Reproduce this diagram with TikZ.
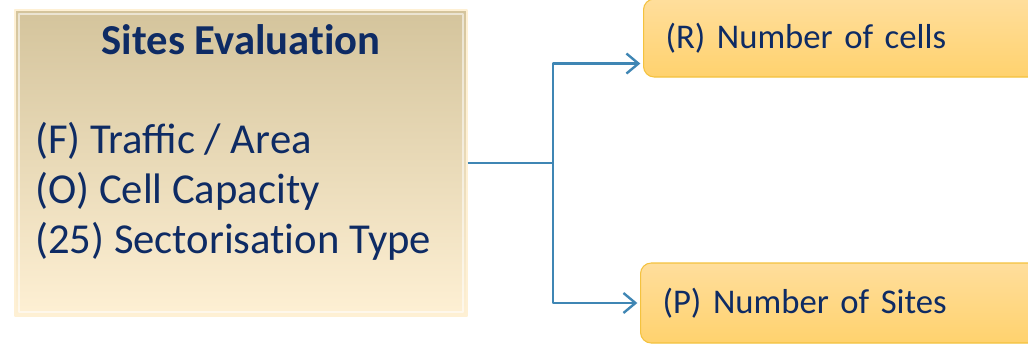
\documentclass[tikz,border=0pt]{standalone}
\usepackage{fontspec}
\setmainfont{Carlito}
\usetikzlibrary{arrows.meta,positioning}

\definecolor{blu}{HTML}{0E2B64}
\definecolor{freccia}{HTML}{3F86B4}
\definecolor{sabbia}{HTML}{D4C49C}
\definecolor{crema}{HTML}{FEF0D4}
\definecolor{oro}{HTML}{F4C23E}
\definecolor{gialloA}{HTML}{FFDE9C}
\definecolor{gialloB}{HTML}{FFD26E}

\begin{document}
\begin{tikzpicture}[x=0.75pt,y=-0.75pt,line join=round,
    valut/.style={rectangle,minimum width=339pt,minimum height=229.5pt,
                  top color=sabbia,bottom color=crema,draw=crema,line width=0.8pt},
    esito/.style={rectangle,rounded corners=8pt,draw=oro,line width=0.8pt,
                  top color=gialloA,bottom color=gialloB,anchor=west,
                  minimum width=300pt,text width=267pt,inner xsep=16.5pt,
                  align=left,text=blu,font=\fontsize{26}{31}\selectfont},
    linea/.style={freccia,line width=2.2pt},
    punta/.style={-{Straight Barb[length=9pt,width=15pt,line width=1.8pt]}}]

  \useasboundingbox (0,0) rectangle (1028,343);
  \clip (0,0) rectangle (1028,343);

  % ---- box di partenza ------------------------------------------------------
  \node[valut] (sites) at (241,163) {};
  \draw[white,opacity=0.55,line width=2.2pt] (19,14) rectangle (463,312);
  \node[text=blu,font=\bfseries\fontsize{32}{38}\selectfont] (titolo) at (241,40)
       {Sites Evaluat\kern0pt ion};
  \node[text=blu,font=\fontsize{32}{37.5}\selectfont,align=left,inner sep=0pt,
        anchor=west] (voci) at (35,191)
       {(F) Traffic / Area\\(O) Cell Capacity\\(25) Sectorisat\kern0pt ion Type};

  % ---- i due risultati -----------------------------------------------------
  \node[esito,minimum height=58.5pt] (celle) at (643,38) {(R) Number of cells};
  \node[esito,minimum height=60pt]   (siti)  at (640,303) {(P) Number of Sites};

  % ---- collegamenti --------------------------------------------------------
  \coordinate (bivio) at (553,163);
  \draw[linea] (sites.east) -- (bivio);
  \draw[linea,punta,shorten >=2pt] (bivio) |- ([yshift=10.5pt]celle.south west);
  \draw[linea,punta,shorten >=2pt] (bivio) |- (siti.west);

\end{tikzpicture}
\end{document}
